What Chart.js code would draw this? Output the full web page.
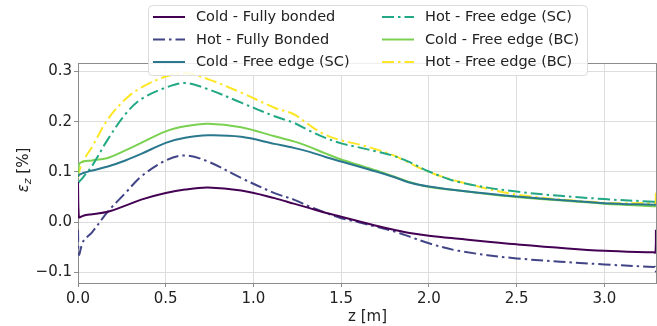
<!DOCTYPE html>
<html>
<head>
<meta charset="utf-8">
<script src="https://cdn.jsdelivr.net/npm/chart.js@4.4.0/dist/chart.umd.min.js"></script>
<style>
  html, body { margin: 0; padding: 0; background: #fff; }
</style>
</head>
<body>
<canvas id="strain" width="657" height="326"></canvas>
<script>
// position along the element, z [m]
const zPos = [0, 0.005, 0.03, 0.08, 0.17, 0.27, 0.36, 0.5, 0.61, 0.74, 0.93, 1.12, 1.23, 1.32, 1.41, 1.5, 1.6, 1.7, 1.8, 1.9, 2.0, 2.17, 2.5, 3.0, 3.28, 3.291, 3.294];

// strain eps_z [%]
const coldFullyBonded = [0.08, 0.010, 0.013, 0.016, 0.021, 0.033, 0.045, 0.058, 0.065, 0.069, 0.063, 0.048, 0.037, 0.028, 0.019, 0.011, 0.002, -0.007, -0.015, -0.022, -0.027, -0.033, -0.044, -0.057, -0.060, -0.060, -0.015];
const hotFullyBonded = [-0.015, -0.065, -0.038, -0.02, 0.021, 0.058, 0.091, 0.123, 0.133, 0.121, 0.088, 0.058, 0.045, 0.031, 0.019, 0.008, 0.0, -0.009, -0.018, -0.03, -0.042, -0.057, -0.072, -0.084, -0.089, -0.089, -0.1];
const coldFreeSC = [0.09, 0.094, 0.098, 0.103, 0.111, 0.123, 0.136, 0.158, 0.168, 0.173, 0.170, 0.156, 0.148, 0.140, 0.130, 0.121, 0.111, 0.101, 0.09, 0.078, 0.071, 0.063, 0.051, 0.038, 0.035, 0.035, 0.035];
const hotFreeSC = [0.078, 0.08, 0.09, 0.112, 0.165, 0.215, 0.245, 0.268, 0.277, 0.265, 0.238, 0.211, 0.198, 0.182, 0.168, 0.157, 0.149, 0.141, 0.132, 0.118, 0.101, 0.08, 0.061, 0.046, 0.041, 0.041, 0.041];
const coldFreeBC = [0.09, 0.115, 0.121, 0.123, 0.128, 0.143, 0.158, 0.181, 0.191, 0.196, 0.189, 0.171, 0.161, 0.150, 0.137, 0.125, 0.114, 0.103, 0.091, 0.079, 0.07, 0.063, 0.05, 0.037, 0.032, 0.032, 0.032];
const hotFreeBC = [0.088, 0.1, 0.122, 0.15, 0.205, 0.245, 0.268, 0.29, 0.297, 0.285, 0.258, 0.228, 0.215, 0.193, 0.174, 0.163, 0.155, 0.145, 0.133, 0.116, 0.1, 0.081, 0.055, 0.039, 0.038, 0.038, 0.065];

const seriesNames = ['Cold - Fully bonded', 'Hot - Fully Bonded', 'Cold - Free edge (SC)', 'Hot - Free edge (SC)', 'Cold - Free edge (BC)', 'Hot - Free edge (BC)'];

const FONT = 'DejaVu Sans';
const dashDot = [12, 4, 2.5, 4];

function pts(vals) {
    return vals.map((v, i) => ({ x: zPos[i], y: v }));
}

function line(label, vals, color, dash) {
    return {
        label: label,
        data: pts(vals),
        borderColor: color,
        backgroundColor: color,
        borderWidth: 2,
        borderDash: dash,
        pointRadius: 0,
        tension: 0.35,
        fill: false
    };
}

function fmt(v) {
    let r = Math.round(v * 10) / 10;
    return (r < 0 ? '\u2212' : '') + Math.abs(r).toFixed(1);
}

// top/right spines, y label with subscript, two-column legend
const decor = {
    id: 'decor',
    afterDraw(chart) {
        const ctx = chart.ctx;
        const a = chart.chartArea;
        ctx.save();
        ctx.strokeStyle = '#8c8c8c';
        ctx.lineWidth = 1;
        ctx.beginPath();
        ctx.moveTo(a.left, a.top + 0.5);
        ctx.lineTo(a.right, a.top + 0.5);
        ctx.moveTo(a.right - 0.5, a.top);
        ctx.lineTo(a.right - 0.5, a.bottom);
        ctx.stroke();

        // y label
        ctx.translate(23, 170);
        ctx.rotate(-Math.PI / 2);
        ctx.fillStyle = '#222';
        ctx.textBaseline = 'alphabetic';
        ctx.textAlign = 'left';
        const f1 = 'italic 15px "' + FONT + '"';
        const f2 = 'italic 11px "' + FONT + '"';
        const f3 = '15px "' + FONT + '"';
        ctx.font = f1; const w1 = ctx.measureText('\u03b5').width;
        ctx.font = f2; const w2 = ctx.measureText('z').width;
        ctx.font = f3; const w3 = ctx.measureText(' [%]').width;
        let x0 = -(w1 + w2 + w3) / 2;
        ctx.font = f1; ctx.fillText('\u03b5', x0, 5);
        ctx.font = f2; ctx.fillText('z', x0 + w1, 8);
        ctx.font = f3; ctx.fillText(' [%]', x0 + w1 + w2, 5);
        ctx.restore();

        // legend
        ctx.save();
        const bx = 148.5, by = 5.5, bw = 439, bh = 70, r = 4;
        ctx.beginPath();
        ctx.moveTo(bx + r, by);
        ctx.arcTo(bx + bw, by, bx + bw, by + bh, r);
        ctx.arcTo(bx + bw, by + bh, bx, by + bh, r);
        ctx.arcTo(bx, by + bh, bx, by, r);
        ctx.arcTo(bx, by, bx + bw, by, r);
        ctx.closePath();
        ctx.fillStyle = 'rgba(255,255,255,0.85)';
        ctx.fill();
        ctx.strokeStyle = '#dcdcdc';
        ctx.lineWidth = 1;
        ctx.stroke();

        const colX = [153, 382];
        const rowY = [17, 39.5, 62];
        ctx.font = '14.5px "' + FONT + '"';
        ctx.textBaseline = 'middle';
        chart.data.datasets.forEach((ds, i) => {
            const c = Math.floor(i / 3), rI = i % 3;
            const lx = colX[c], ly = rowY[rI];
            ctx.strokeStyle = ds.borderColor;
            ctx.lineWidth = 2;
            ctx.setLineDash(ds.borderDash || []);
            ctx.beginPath();
            ctx.moveTo(lx, ly);
            ctx.lineTo(lx + 32, ly);
            ctx.stroke();
            ctx.setLineDash([]);
            ctx.fillStyle = '#222';
            ctx.fillText(ds.label, lx + 43, ly + 0.5);
        });
        ctx.restore();
    }
};

const canv = document.getElementById('strain');

new Chart(canv, {
    type: 'line',
    data: {
        datasets: [
            line(seriesNames[0], coldFullyBonded, '#440154', []),
            line(seriesNames[1], hotFullyBonded, '#414487', dashDot),
            line(seriesNames[2], coldFreeSC, '#2a788e', []),
            line(seriesNames[3], hotFreeSC, '#22a884', dashDot),
            line(seriesNames[4], coldFreeBC, '#7ad151', []),
            line(seriesNames[5], hotFreeBC, '#fde725', dashDot)
        ]
    },
    options: {
        responsive: false,
        animation: false,
        events: [],
        layout: { padding: { top: 63, right: 0, left: 0, bottom: 0 } },
        plugins: {
            legend: { display: false },
            tooltip: { enabled: false }
        },
        scales: {
            x: {
                type: 'linear',
                min: 0,
                max: 3.3,
                afterFit(s) { s.height = 43; },
                grid: { color: '#dddddd', tickLength: 4, tickColor: '#8c8c8c' },
                border: { color: '#8c8c8c' },
                ticks: {
                    stepSize: 0.5,
                    includeBounds: false,
                    maxRotation: 0,
                    padding: 3,
                    color: '#222',
                    font: { family: FONT, size: 15 },
                    callback: v => fmt(v)
                },
                title: {
                    display: true,
                    text: 'z [m]',
                    color: '#222',
                    font: { family: FONT, size: 15 },
                    padding: { top: 0, bottom: 0 }
                }
            },
            y: {
                min: -0.121,
                max: 0.317,
                afterFit(s) { s.width = 78; },
                grid: { color: '#dddddd', tickLength: 4, tickColor: '#8c8c8c' },
                border: { color: '#8c8c8c' },
                ticks: {
                    stepSize: 0.1,
                    includeBounds: false,
                    padding: 2,
                    color: '#222',
                    font: { family: FONT, size: 15 },
                    callback: v => fmt(v)
                }
            }
        }
    },
    plugins: [decor]
});
</script>
</body>
</html>
